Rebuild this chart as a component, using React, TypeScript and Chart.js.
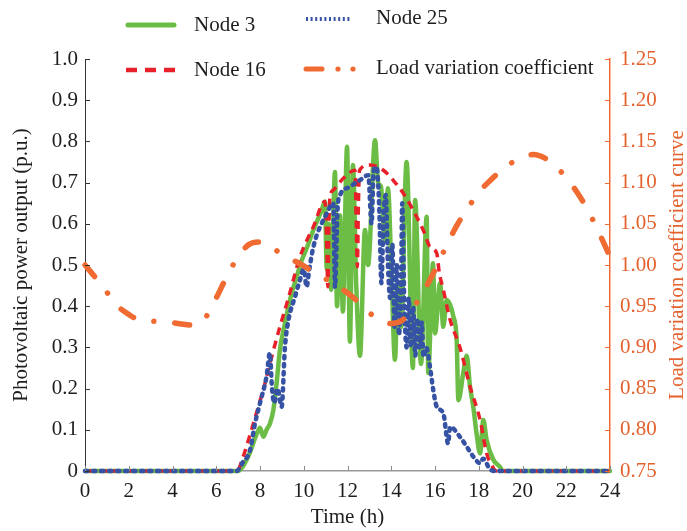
import React, { useEffect, useRef } from "react";
import { Chart, registerables } from "chart.js";

Chart.register(...registerables);

const FONT = "'Liberation Serif', 'Times New Roman', serif";
const FS = 21;

const seriesNames = ["Node 3", "Node 25", "Node 16", "Load variation coefficient"];
const xTitle = "Time (h)";
const yTitle = "Photovoltaic power output (p.u.)";
const y1Title = "Load variation coefficient curve";

const loadTimes = [0, 0.5, 1, 1.5, 2, 2.5, 3, 3.5, 4, 4.5, 5, 5.5, 6, 6.5, 7, 7.5, 8, 8.5, 9, 9.5, 10, 10.5, 11, 11.5, 12, 12.5, 13, 13.5, 14, 14.5, 15, 15.5, 16, 16.5, 17, 17.5, 18, 18.5, 19, 19.5, 20, 20.5, 21, 21.5, 22, 22.5, 23, 23.5, 24];
const loadValues = [1.0, 0.984, 0.967, 0.95, 0.94, 0.933, 0.932, 0.931, 0.93, 0.928, 0.927, 0.936, 0.96, 0.987, 1.01, 1.025, 1.028, 1.022, 1.013, 1.006, 0.999, 0.99, 0.983, 0.975, 0.966, 0.955, 0.942, 0.933, 0.929, 0.933, 0.948, 0.969, 0.994, 1.022, 1.048, 1.069, 1.088, 1.102, 1.114, 1.124, 1.13, 1.134, 1.13, 1.12, 1.106, 1.088, 1.066, 1.039, 1.01];

const node3Times = [0, 7.0, 7.2, 7.5, 7.85, 8.0, 8.15, 8.3, 8.46, 8.61, 8.76, 8.91, 9.14, 9.37, 9.68, 9.9, 10.13, 10.44, 10.8, 10.97, 11.05, 11.15, 11.25, 11.43, 11.52, 11.66, 11.79, 11.98, 12.11, 12.25, 12.4, 12.57, 12.8, 12.94, 13.26, 13.4, 13.53, 13.71, 13.85, 14.0, 14.17, 14.3, 14.45, 14.7, 14.99, 15.09, 15.36, 15.62, 15.69, 15.91, 16.0, 16.23, 16.38, 16.53, 16.84, 16.99, 17.07, 17.29, 17.45, 17.6, 17.75, 17.9, 18.06, 18.21, 18.36, 18.67, 18.97, 19.1, 24];
const node3Values = [0, 0, 0.01, 0.04, 0.09, 0.105, 0.083, 0.1, 0.116, 0.148, 0.213, 0.294, 0.358, 0.415, 0.472, 0.51, 0.54, 0.585, 0.63, 0.654, 0.49, 0.6, 0.44, 0.726, 0.4, 0.62, 0.387, 0.787, 0.314, 0.743, 0.45, 0.28, 0.585, 0.5, 0.803, 0.7, 0.69, 0.56, 0.686, 0.5, 0.27, 0.45, 0.35, 0.75, 0.25, 0.658, 0.26, 0.617, 0.238, 0.504, 0.334, 0.456, 0.35, 0.415, 0.375, 0.318, 0.172, 0.237, 0.28, 0.205, 0.156, 0.091, 0.043, 0.124, 0.075, 0.027, 0.01, 0, 0];

const node25Times = [0, 6.93, 7.2, 7.54, 7.77, 8.0, 8.3, 8.45, 8.55, 8.65, 8.8, 8.99, 9.14, 9.3, 9.6, 9.83, 10.0, 10.13, 10.25, 10.44, 11.05, 11.35, 11.43, 11.55, 11.66, 12.11, 12.57, 12.95, 13.1, 13.2, 13.33, 13.45, 13.55, 13.65, 13.75, 13.85, 13.95, 14.05, 14.15, 14.25, 14.35, 14.45, 14.5, 14.6, 14.7, 14.8, 14.9, 15.0, 15.1, 15.2, 15.3, 15.4, 15.47, 15.6, 15.77, 15.92, 16.08, 16.38, 16.6, 16.69, 17.14, 17.45, 17.75, 18.06, 18.2, 18.5, 18.7, 24];
const node25Values = [0, 0, 0.02, 0.05, 0.115, 0.165, 0.23, 0.286, 0.2, 0.165, 0.2, 0.156, 0.3, 0.366, 0.423, 0.464, 0.49, 0.447, 0.488, 0.544, 0.625, 0.65, 0.447, 0.64, 0.67, 0.69, 0.706, 0.718, 0.6, 0.73, 0.738, 0.64, 0.456, 0.62, 0.67, 0.5, 0.42, 0.55, 0.35, 0.5, 0.33, 0.46, 0.65, 0.4, 0.3, 0.42, 0.3, 0.4, 0.28, 0.37, 0.3, 0.36, 0.277, 0.3, 0.253, 0.197, 0.156, 0.14, 0.067, 0.107, 0.083, 0.059, 0.035, 0.019, 0.03, 0.005, 0, 0];

const node16Times = [0, 6.95, 7.2, 7.5, 7.7, 8.0, 8.15, 8.5, 8.91, 9.3, 9.83, 10.44, 10.97, 11.05, 11.1, 11.15, 11.2, 11.35, 11.8, 12.34, 12.4, 12.45, 12.5, 12.55, 13.03, 13.64, 14.1, 14.55, 15.16, 15.5, 15.77, 16.08, 16.2, 16.38, 16.69, 17.14, 17.6, 18.06, 18.36, 18.67, 18.8, 24];
const node16Values = [0, 0, 0.03, 0.08, 0.116, 0.17, 0.197, 0.27, 0.35, 0.42, 0.52, 0.593, 0.654, 0.55, 0.447, 0.6, 0.665, 0.682, 0.71, 0.73, 0.6, 0.496, 0.65, 0.73, 0.743, 0.73, 0.705, 0.674, 0.617, 0.58, 0.544, 0.528, 0.48, 0.44, 0.367, 0.3, 0.205, 0.124, 0.043, 0.007, 0, 0];

const xTicks = { min: 0, max: 24, step: 2 };
const yTicks = { min: 0, max: 1, step: 0.1 };
const y1Ticks = { min: 0.75, max: 1.25, step: 0.05 };

const GREEN = "#6cbd45";
const BLUE = "#3552a4";
const RED = "#e8202a";
const ORANGE = "#f06b32";
const ORANGE_TXT = "#e4622e";
const TXT = "#1e1e1e";

const pts = (xs: number[], ys: number[]) => xs.map((x, i) => ({ x, y: ys[i] }));

const decorPlugin = {
  id: "decor",
  afterDraw(chart: any) {
    const { ctx, chartArea: ca, scales } = chart;
    const x = scales.x, y = scales.y, y1 = scales.y1;
    ctx.save();
    ctx.lineWidth = 1;
    ctx.setLineDash([]);
    // inward ticks
    ctx.strokeStyle = "#8a8a8a";
    x.ticks.forEach((t: any) => {
      const px = Math.round(x.getPixelForValue(t.value)) + 0.5;
      ctx.beginPath(); ctx.moveTo(px, ca.bottom); ctx.lineTo(px, ca.bottom - 5); ctx.stroke();
    });
    ctx.strokeStyle = "#333";
    y.ticks.forEach((t: any) => {
      const py = Math.round(y.getPixelForValue(t.value)) + 0.5;
      ctx.beginPath(); ctx.moveTo(ca.left, py); ctx.lineTo(ca.left + 5, py); ctx.stroke();
    });
    ctx.strokeStyle = ORANGE;
    y1.ticks.forEach((t: any) => {
      const py = Math.round(y1.getPixelForValue(t.value)) + 0.5;
      ctx.beginPath(); ctx.moveTo(ca.right, py); ctx.lineTo(ca.right - 5, py); ctx.stroke();
    });

    // right title
    ctx.save();
    ctx.translate(677, (ca.top + ca.bottom) / 2);
    ctx.rotate(-Math.PI / 2);
    ctx.font = `${FS}px ${FONT}`;
    ctx.fillStyle = ORANGE_TXT;
    ctx.textAlign = "center";
    ctx.textBaseline = "middle";
    ctx.fillText(y1Title, 0, 0);
    ctx.restore();

    // legend
    ctx.font = `${FS}px ${FONT}`;
    ctx.fillStyle = TXT;
    ctx.textAlign = "left";
    ctx.textBaseline = "middle";

    // Node 3
    ctx.strokeStyle = GREEN; ctx.lineWidth = 5; ctx.lineCap = "round"; ctx.setLineDash([]);
    ctx.beginPath(); ctx.moveTo(128, 25); ctx.lineTo(174, 25); ctx.stroke();
    ctx.fillText(seriesNames[0], 194, 25);

    // Node 25
    ctx.strokeStyle = BLUE; ctx.lineWidth = 4; ctx.lineCap = "butt"; ctx.setLineDash([2, 2.6]);
    ctx.beginPath(); ctx.moveTo(306, 19); ctx.lineTo(352, 19); ctx.stroke();
    ctx.fillText(seriesNames[1], 376, 18);

    // Node 16
    ctx.strokeStyle = RED; ctx.lineWidth = 4.5; ctx.lineCap = "butt"; ctx.setLineDash([11, 8]);
    ctx.beginPath(); ctx.moveTo(126, 70); ctx.lineTo(175, 70); ctx.stroke();
    ctx.fillText(seriesNames[2], 194, 70);

    // Load
    ctx.strokeStyle = ORANGE; ctx.lineWidth = 5; ctx.lineCap = "round"; ctx.setLineDash([]);
    ctx.beginPath(); ctx.moveTo(306, 69); ctx.lineTo(322, 69); ctx.stroke();
    ctx.fillStyle = ORANGE;
    [338, 353].forEach((cx) => { ctx.beginPath(); ctx.arc(cx, 69, 2.6, 0, Math.PI * 2); ctx.fill(); });
    ctx.fillStyle = TXT;
    ctx.fillText(seriesNames[3], 376, 68);

    ctx.restore();
  },
};

export default function App() {
  const ref = useRef<HTMLCanvasElement | null>(null);
  useEffect(() => {
    if (!ref.current) return;
    const chart = new Chart(ref.current, {
      type: "line",
      data: {
        datasets: [
          {
            label: seriesNames[3],
            data: pts(loadTimes, loadValues),
            yAxisID: "y1",
            borderColor: ORANGE,
            borderWidth: 5.5,
            borderCapStyle: "round",
            borderDash: [15, 21, 0.01, 21],
            cubicInterpolationMode: "monotone",
            pointRadius: 0,
            order: 0,
            clip: false,
          },
          {
            label: seriesNames[1],
            data: pts(node25Times, node25Values),
            yAxisID: "y",
            borderColor: BLUE,
            borderWidth: 4.5,
            borderCapStyle: "round",
            borderDash: [2.5, 5.5],
            cubicInterpolationMode: "monotone",
            pointRadius: 0,
            order: 1,
            clip: false,
          },
          {
            label: seriesNames[2],
            data: pts(node16Times, node16Values),
            yAxisID: "y",
            borderColor: RED,
            borderWidth: 3.5,
            borderDash: [8, 6],
            cubicInterpolationMode: "monotone",
            pointRadius: 0,
            order: 2,
            clip: false,
          },
          {
            label: seriesNames[0],
            data: pts(node3Times, node3Values),
            yAxisID: "y",
            borderColor: GREEN,
            borderWidth: 4.5,
            borderJoinStyle: "round",
            borderCapStyle: "round",
            cubicInterpolationMode: "monotone",
            pointRadius: 0,
            order: 3,
            clip: false,
          },
        ],
      },
      options: {
        responsive: false,
        devicePixelRatio: 1,
        animation: false,
        events: [],
        layout: { padding: { top: 59, left: 0, right: 0, bottom: 0 } },
        plugins: { legend: { display: false }, tooltip: { enabled: false } },
        scales: {
          x: {
            type: "linear",
            min: xTicks.min,
            max: xTicks.max,
            afterFit: (s: any) => { s.height = 60; },
            border: { display: true, color: "#9a9a9a", width: 1.5 },
            grid: { drawOnChartArea: false, drawTicks: false },
            ticks: {
              stepSize: xTicks.step,
              padding: 8,
              color: TXT,
              font: { family: FONT, size: FS },
              maxRotation: 0,
              autoSkip: false,
            },
            title: {
              display: true,
              text: xTitle,
              color: TXT,
              font: { family: FONT, size: FS },
              padding: { top: 0, bottom: 1 },
            },
          },
          y: {
            type: "linear",
            position: "left",
            min: yTicks.min,
            max: yTicks.max,
            afterFit: (s: any) => { s.width = 85; },
            border: { display: true, color: "#333", width: 1 },
            grid: { drawOnChartArea: false, drawTicks: false },
            ticks: {
              stepSize: yTicks.step,
              padding: 7,
              color: TXT,
              font: { family: FONT, size: FS },
              callback: (v: any) => (Math.abs(v) < 1e-9 ? "0" : Number(v).toFixed(1)),
            },
            title: {
              display: true,
              text: yTitle,
              color: TXT,
              font: { family: FONT, size: FS },
              padding: { top: 9, bottom: 0 },
            },
          },
          y1: {
            type: "linear",
            position: "right",
            min: y1Ticks.min,
            max: y1Ticks.max,
            afterFit: (s: any) => { s.width = 77; },
            border: { display: true, color: ORANGE, width: 1.5 },
            grid: { drawOnChartArea: false, drawTicks: false },
            ticks: {
              stepSize: y1Ticks.step,
              padding: 10,
              color: ORANGE_TXT,
              font: { family: FONT, size: FS },
              callback: (v: any) => Number(v).toFixed(2),
            },
          },
        },
      },
      plugins: [decorPlugin],
    } as any);
    return () => chart.destroy();
  }, []);

  return (
    <div style={{ position: "fixed", left: 0, top: 0, width: 687, height: 531, background: "#fff" }}>
      <canvas ref={ref} width={687} height={531} style={{ width: 687, height: 531, display: "block" }} />
    </div>
  );
}
